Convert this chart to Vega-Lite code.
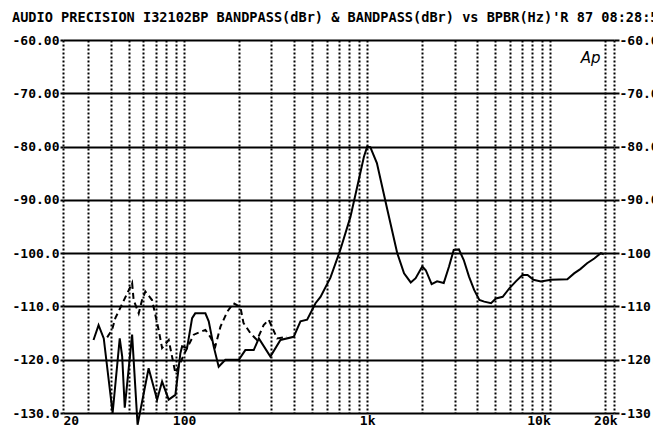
{
  "$schema": "https://vega.github.io/schema/vega-lite/v6.json",
  "autosize": {"type": "none"},
  "width": 551,
  "height": 373,
  "padding": {"left": 63, "top": 40, "right": 39, "bottom": 21},
  "background": "white",
  "config": {
    "view": {"stroke": null},
    "font": "DejaVu Sans Mono",
    "axis": {
      "labelFont": "DejaVu Sans Mono",
      "labelFontWeight": "bold",
      "labelFontSize": 13,
      "labelColor": "black",
      "domain": false,
      "tickColor": "black",
      "title": null
    }
  },
  "title": {
    "text": "AUDIO PRECISION I32102BP BANDPASS(dBr) & BANDPASS(dBr) vs BPBR(Hz)'R 87 08:28:55",
    "anchor": "start",
    "frame": "group",
    "dx": -51,
    "offset": 9,
    "font": "DejaVu Sans Mono",
    "fontSize": 13.6,
    "fontWeight": "bold",
    "color": "black"
  },
  "datasets": {
    "curves": [
      {"f": 32, "db": -116.3, "s": "A"},
      {"f": 34.1, "db": -113.5, "s": "A"},
      {"f": 36.4, "db": -116, "s": "A"},
      {"f": 40.7, "db": -130, "s": "A"},
      {"f": 44.5, "db": -116, "s": "A"},
      {"f": 45.9, "db": -119.4, "s": "A"},
      {"f": 47.4, "db": -129, "s": "A"},
      {"f": 52, "db": -115.3, "s": "A"},
      {"f": 55.7, "db": -132.2, "s": "A"},
      {"f": 64, "db": -121.6, "s": "A"},
      {"f": 71.2, "db": -127.5, "s": "A"},
      {"f": 75.8, "db": -124.1, "s": "A"},
      {"f": 82.4, "db": -127.5, "s": "A"},
      {"f": 89.6, "db": -126.6, "s": "A"},
      {"f": 95.4, "db": -118.8, "s": "A"},
      {"f": 97.5, "db": -117.5, "s": "A"},
      {"f": 103.8, "db": -117.8, "s": "A"},
      {"f": 110.6, "db": -112.2, "s": "A"},
      {"f": 115, "db": -111.3, "s": "A"},
      {"f": 130.7, "db": -111.3, "s": "A"},
      {"f": 136.3, "db": -112.8, "s": "A"},
      {"f": 145, "db": -117.5, "s": "A"},
      {"f": 154.5, "db": -121.3, "s": "A"},
      {"f": 168, "db": -120, "s": "A"},
      {"f": 199, "db": -120, "s": "A"},
      {"f": 216, "db": -118.2, "s": "A"},
      {"f": 240, "db": -118.2, "s": "A"},
      {"f": 256, "db": -116, "s": "A"},
      {"f": 296, "db": -119.4, "s": "A"},
      {"f": 336, "db": -116.3, "s": "A"},
      {"f": 397, "db": -115.7, "s": "A"},
      {"f": 432, "db": -112.8, "s": "A"},
      {"f": 470, "db": -112.5, "s": "A"},
      {"f": 522, "db": -109.4, "s": "A"},
      {"f": 556, "db": -108.2, "s": "A"},
      {"f": 630, "db": -104.6, "s": "A"},
      {"f": 713, "db": -99.4, "s": "A"},
      {"f": 810, "db": -93.2, "s": "A"},
      {"f": 883, "db": -87.5, "s": "A"},
      {"f": 960, "db": -81.9, "s": "A"},
      {"f": 1000, "db": -80, "s": "A"},
      {"f": 1040, "db": -80.1, "s": "A"},
      {"f": 1130, "db": -83.1, "s": "A"},
      {"f": 1290, "db": -91.9, "s": "A"},
      {"f": 1460, "db": -100, "s": "A"},
      {"f": 1590, "db": -103.8, "s": "A"},
      {"f": 1730, "db": -105.5, "s": "A"},
      {"f": 1840, "db": -104.7, "s": "A"},
      {"f": 2000, "db": -102.5, "s": "A"},
      {"f": 2090, "db": -103.2, "s": "A"},
      {"f": 2250, "db": -105.8, "s": "A"},
      {"f": 2410, "db": -105.3, "s": "A"},
      {"f": 2620, "db": -105.6, "s": "A"},
      {"f": 2800, "db": -102.5, "s": "A"},
      {"f": 2970, "db": -99.4, "s": "A"},
      {"f": 3170, "db": -99.3, "s": "A"},
      {"f": 3370, "db": -101.3, "s": "A"},
      {"f": 3600, "db": -104.4, "s": "A"},
      {"f": 3840, "db": -106.9, "s": "A"},
      {"f": 4100, "db": -108.8, "s": "A"},
      {"f": 4360, "db": -109.1, "s": "A"},
      {"f": 4750, "db": -109.4, "s": "A"},
      {"f": 5050, "db": -108.5, "s": "A"},
      {"f": 5500, "db": -108.2, "s": "A"},
      {"f": 5980, "db": -106.6, "s": "A"},
      {"f": 6490, "db": -105.3, "s": "A"},
      {"f": 7050, "db": -104.1, "s": "A"},
      {"f": 7520, "db": -104.1, "s": "A"},
      {"f": 8100, "db": -105, "s": "A"},
      {"f": 8890, "db": -105.3, "s": "A"},
      {"f": 10100, "db": -105, "s": "A"},
      {"f": 12400, "db": -104.9, "s": "A"},
      {"f": 13500, "db": -103.8, "s": "A"},
      {"f": 14600, "db": -103, "s": "A"},
      {"f": 15900, "db": -101.9, "s": "A"},
      {"f": 17400, "db": -101, "s": "A"},
      {"f": 18900, "db": -100, "s": "A"},
      {"f": 19600, "db": -100.2, "s": "A"},
      {"f": 38, "db": -115.8, "s": "B"},
      {"f": 40.4, "db": -114.4, "s": "B"},
      {"f": 42.1, "db": -112.2, "s": "B"},
      {"f": 50.9, "db": -106.3, "s": "B"},
      {"f": 52, "db": -105.6, "s": "B"},
      {"f": 53, "db": -108.8, "s": "B"},
      {"f": 56.5, "db": -111.3, "s": "B"},
      {"f": 58.9, "db": -108.8, "s": "B"},
      {"f": 61.4, "db": -107.2, "s": "B"},
      {"f": 66.8, "db": -108.8, "s": "B"},
      {"f": 72.6, "db": -114.4, "s": "B"},
      {"f": 75.8, "db": -117.8, "s": "B"},
      {"f": 82.4, "db": -116.3, "s": "B"},
      {"f": 89.6, "db": -122.5, "s": "B"},
      {"f": 95.4, "db": -120.6, "s": "B"},
      {"f": 99.5, "db": -119.1, "s": "B"},
      {"f": 113, "db": -115.3, "s": "B"},
      {"f": 130.7, "db": -114.4, "s": "B"},
      {"f": 139, "db": -115.7, "s": "B"},
      {"f": 148, "db": -117.5, "s": "B"},
      {"f": 158, "db": -113.8, "s": "B"},
      {"f": 172, "db": -111, "s": "B"},
      {"f": 186, "db": -109.4, "s": "B"},
      {"f": 203, "db": -110.1, "s": "B"},
      {"f": 211, "db": -113.1, "s": "B"},
      {"f": 230, "db": -115, "s": "B"},
      {"f": 250, "db": -116.3, "s": "B"},
      {"f": 272, "db": -113.5, "s": "B"},
      {"f": 290, "db": -112.5, "s": "B"},
      {"f": 322, "db": -116, "s": "B"},
      {"f": 365, "db": -115.7, "s": "B"}
    ],
    "logo": [{"f": 16600, "db": -63.4, "label": "Ap"}]
  },
  "layer": [
    {
      "data": {"name": "curves"},
      "transform": [{"filter": "datum.s === 'A'"}],
      "mark": {"type": "line", "color": "black", "strokeWidth": 2, "interpolate": "linear"},
      "encoding": {
        "x": {
          "field": "f", "type": "quantitative",
          "scale": {"type": "log", "domain": [21.8, 22300], "nice": false},
          "axis": {
            "orient": "bottom",
            "values": [21.8, 30, 40, 50, 60, 70, 80, 90, 100, 200, 300, 400, 500, 600, 700, 800, 900, 1000, 2000, 3000, 4000, 5000, 6000, 7000, 8000, 9000, 10000, 20000, 22300],
            "labelExpr": "datum.value < 25 ? '20' : datum.value == 100 ? '100' : datum.value == 1000 ? '1k' : datum.value == 10000 ? '10k' : datum.value == 20000 ? '20k' : ''",
            "labelOverlap": false,
            "labelFlush": false,
            "labelAlign": {"condition": [{"test": "datum.value < 25", "value": "left"}, {"test": "datum.value == 10000", "value": "right"}], "value": "center"},
            "labelPadding": 1,
            "ticks": false,
            "grid": true,
            "gridColor": "black",
            "gridWidth": 2,
            "gridDash": [2, 2],
            "gridOpacity": 1
          }
        },
        "y": {
          "field": "db", "type": "quantitative",
          "scale": {"domain": [-130, -60], "nice": false, "zero": false},
          "axis": {
            "orient": "left",
            "values": [-130, -120, -110, -100, -90, -80, -70, -60],
            "labelExpr": "datum.value > -100 ? '-' + format(-datum.value, '.2f') : '-' + format(-datum.value, '.1f')",
            "tickSize": 3,
            "tickWidth": 2,
            "labelPadding": 1,
            "labelBaseline": "middle",
            "grid": true,
            "gridColor": "black",
            "gridWidth": 2,
            "gridOpacity": 1
          }
        }
      }
    },
    {
      "data": {"name": "curves"},
      "transform": [{"filter": "datum.s === 'B'"}],
      "mark": {"type": "line", "color": "black", "strokeWidth": 2, "strokeDash": [6, 4]},
      "encoding": {
        "x": {"field": "f", "type": "quantitative", "scale": {"type": "log", "domain": [21.8, 22300], "nice": false}},
        "y": {
          "field": "db", "type": "quantitative",
          "scale": {"domain": [-130, -60], "nice": false, "zero": false},
          "axis": {
            "orient": "right",
            "values": [-130, -120, -110, -100, -90, -80, -70, -60],
            "labelExpr": "datum.value > -100 ? '-' + format(-datum.value, '.2f') : '\u00a0-' + format(-datum.value, '.1f')",
            "tickSize": 5,
            "tickWidth": 2,
            "labelPadding": 0,
            "labelBaseline": "middle",
            "grid": false
          }
        }
      }
    },
    {
      "data": {"name": "logo"},
      "mark": {"type": "text", "font": "DejaVu Sans", "fontStyle": "italic", "fontSize": 15, "color": "black"},
      "encoding": {
        "x": {"field": "f", "type": "quantitative", "scale": {"type": "log", "domain": [21.8, 22300], "nice": false}},
        "y": {"field": "db", "type": "quantitative", "scale": {"domain": [-130, -60], "nice": false, "zero": false}, "axis": null},
        "text": {"field": "label"}
      }
    }
  ],
  "resolve": {"axis": {"y": "independent"}}
}
